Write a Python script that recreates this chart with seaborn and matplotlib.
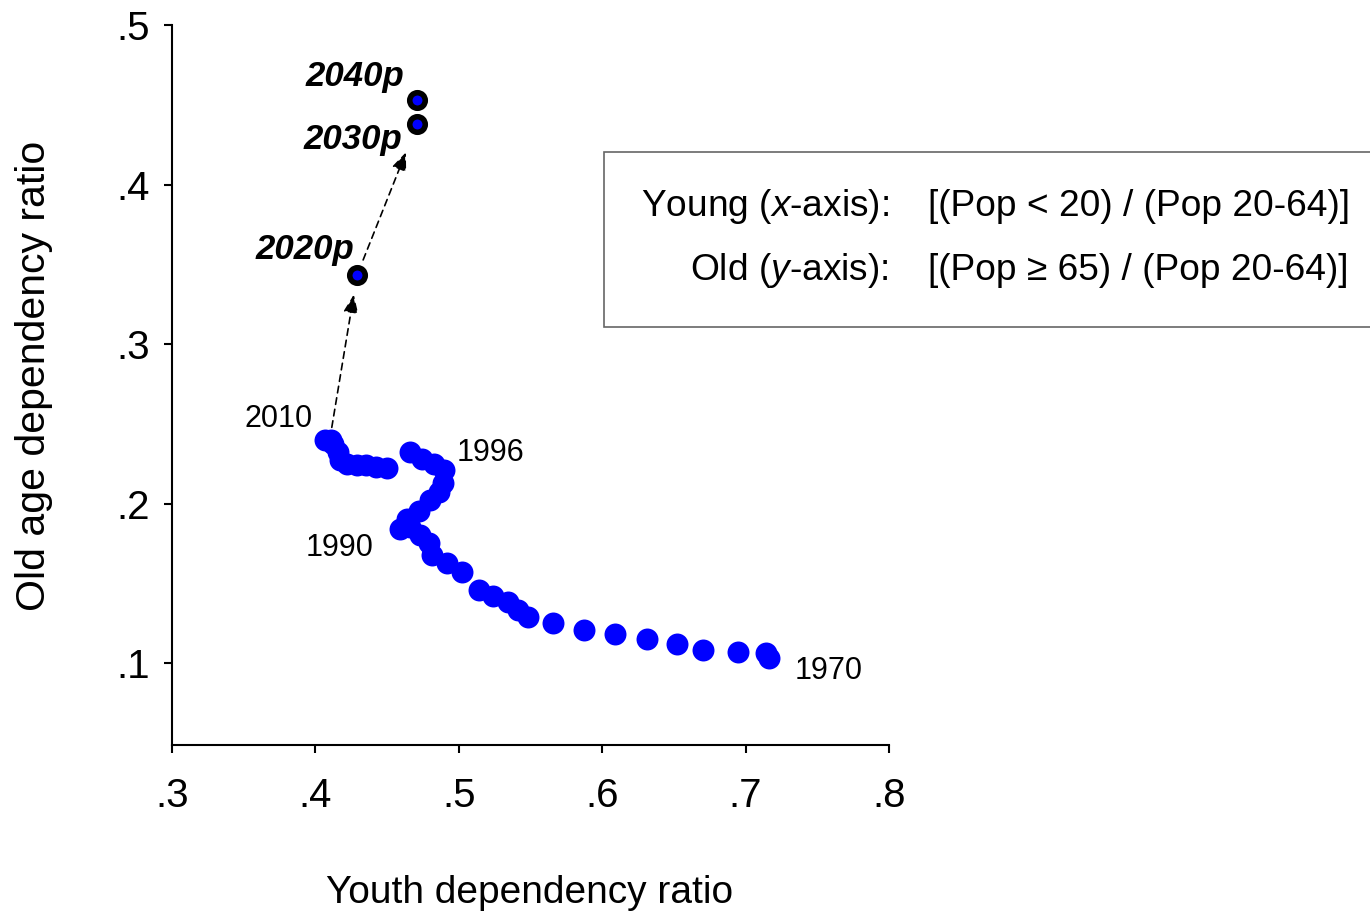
"""Old-age vs youth dependency ratio path, 1970-2010 with projections."""

import matplotlib

matplotlib.use("Agg")
import matplotlib.pyplot as plt
import pandas as pd
import seaborn as sns
from matplotlib.patches import Rectangle

years = list(range(1970, 2011))
youth = [
    0.716, 0.714, 0.695, 0.670, 0.652, 0.631, 0.609, 0.587, 0.566, 0.548,
    0.541, 0.534, 0.524, 0.514, 0.502, 0.492, 0.481, 0.479, 0.473, 0.466,
    0.459, 0.464, 0.472, 0.480, 0.486, 0.489, 0.490, 0.483, 0.474, 0.466,
    0.450, 0.442, 0.435, 0.429, 0.422, 0.417, 0.416, 0.412, 0.410, 0.411,
    0.407,
]
old = [
    0.103, 0.106, 0.107, 0.108, 0.112, 0.115, 0.118, 0.121, 0.125, 0.129,
    0.133, 0.138, 0.142, 0.146, 0.157, 0.163, 0.168, 0.175, 0.180, 0.185,
    0.184, 0.190, 0.195, 0.202, 0.207, 0.213, 0.221, 0.225, 0.228, 0.232,
    0.222, 0.223, 0.224, 0.224, 0.225, 0.227, 0.232, 0.237, 0.239, 0.240,
    0.240,
]
proj_years = ["2020p", "2030p", "2040p"]
proj_youth = [0.429, 0.471, 0.471]
proj_old = [0.343, 0.438, 0.453]

labeled_years = {1970: (19, -9, "left"), 1990: (-19, -14, "right"),
                 1996: (9, 12, "left"), 2010: (-9, 15, "right")}
proj_offsets = [(-2, 19), (-11, -11), (-9, 17)]

xticks = [0.3, 0.4, 0.5, 0.6, 0.7, 0.8]
xticklabels = [".3", ".4", ".5", ".6", ".7", ".8"]
yticks = [0.1, 0.2, 0.3, 0.4, 0.5]
yticklabels = [".1", ".2", ".3", ".4", ".5"]

hist = pd.DataFrame({"year": years, "youth": youth, "old": old})
proj = pd.DataFrame({"year": proj_years, "youth": proj_youth, "old": proj_old})

sns.set_style("white")
plt.rcParams["font.family"] = ["Liberation Sans", "DejaVu Sans"]
plt.rcParams["mathtext.fontset"] = "custom"
plt.rcParams["mathtext.rm"] = "Liberation Sans"
plt.rcParams["mathtext.it"] = "Liberation Sans:italic"
for key in ("text.color", "axes.labelcolor", "xtick.color", "ytick.color"):
    plt.rcParams[key] = "black"

fig = plt.figure(figsize=(13.7, 9.11), dpi=100)
ax = fig.add_axes([172 / 1370, 1 - 745 / 911, 717 / 1370, 720 / 911])

sns.scatterplot(data=hist, x="youth", y="old", ax=ax, color="#0000ff",
                s=250, linewidth=0, zorder=3)
sns.scatterplot(data=proj, x="youth", y="old", ax=ax, color="#0000ff",
                s=125, edgecolor="black", linewidth=4, zorder=4)

# year labels on the historical path
for yr, (dx, dy, ha) in labeled_years.items():
    row = hist[hist["year"] == yr].iloc[0]
    ax.annotate(str(yr), (row["youth"], row["old"]), xytext=(dx, dy),
                textcoords="offset points", ha=ha, va="center", fontsize=22)

for (_, row), (dx, dy) in zip(proj.iterrows(), proj_offsets):
    ax.annotate(row["year"], (row["youth"], row["old"]), xytext=(dx, dy),
                textcoords="offset points", ha="right", va="center",
                fontsize=25, fontweight="bold", fontstyle="italic")

# dashed arrows 2010 -> 2020p -> 2030p
arrow = dict(arrowstyle="-|>,head_length=1.1,head_width=0.45", color="black",
             linestyle=(0, (4, 3)), linewidth=1.2)
ax.annotate("", xy=(proj_youth[0], proj_old[0]), xytext=(youth[-1] + 0.003, old[-1]),
            arrowprops=dict(arrow, shrinkA=9, shrinkB=14))
ax.annotate("", xy=(proj_youth[1], proj_old[1]), xytext=(proj_youth[0], proj_old[0]),
            arrowprops=dict(arrow, shrinkA=12, shrinkB=22))

ax.set_xlim(0.3, 0.8)
ax.set_ylim(0.0486, 0.5)
ax.set_xticks(xticks, xticklabels)
ax.set_yticks(yticks, yticklabels)
ax.tick_params(axis="both", direction="out", length=6, width=1.5,
               labelsize=29, color="black", left=True, bottom=True)
ax.tick_params(axis="x", pad=17)
ax.tick_params(axis="y", pad=10)
for side in ("top", "right"):
    ax.spines[side].set_visible(False)
for side in ("left", "bottom"):
    ax.spines[side].set_color("black")
    ax.spines[side].set_linewidth(1.5)

ax.set_xlabel("Youth dependency ratio", fontsize=28, va="top")
ax.xaxis.set_label_coords(0.499, -0.18)
ax.set_ylabel("Old age dependency ratio", fontsize=29.5)
ax.yaxis.set_label_coords(-0.166, 0.512)

# definitions box
fig.patches.append(Rectangle((604 / 1370, 1 - 327 / 911), 0.6, 175 / 911,
                             transform=fig.transFigure, facecolor="white",
                             edgecolor="#666666", linewidth=1.2))
fig.text(889 / 1370, 1 - 206 / 911, "Young ($\\mathit{x}$-axis):", ha="right",
         va="center", fontsize=26.7)
fig.text(928 / 1370, 1 - 206 / 911, "[(Pop < 20) / (Pop 20-64)]", ha="left",
         va="center", fontsize=26.7)
fig.text(889 / 1370, 1 - 271 / 911, "Old ($\\mathit{y}$-axis):", ha="right",
         va="center", fontsize=26.7)
fig.text(928 / 1370, 1 - 271 / 911, "[(Pop \u2265 65) / (Pop 20-64)]", ha="left",
         va="center", fontsize=26.7)

fig.savefig("out.png", dpi=100)
plt.close(fig)
